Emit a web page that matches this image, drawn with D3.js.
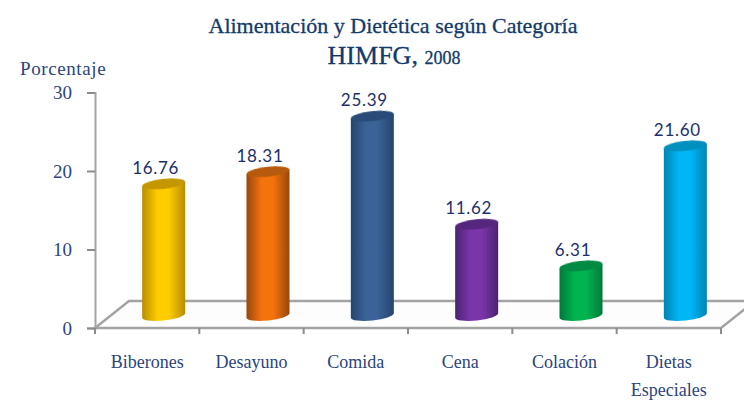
<!DOCTYPE html>
<html>
<head>
<meta charset="utf-8">
<script src="https://cdn.jsdelivr.net/npm/d3@7"></script>
<style>
    html, body { margin: 0; padding: 0; background: #fff; }
    svg { display: block; }
    .papyrus { font-family: "Liberation Serif", serif; fill: #2b4480; }
    .title { fill: #123a6b; stroke: #123a6b; stroke-width: 0.3px; }
    .value { font-family: "Lato", sans-serif; font-size: 17px; letter-spacing: 0.7px; fill: #1b2f6b; }
</style>
</head>
<body>
<div id="chart"></div>
<script>
//
// DATA
//
const categories = ['Biberones', 'Desayuno', 'Comida', 'Cena', 'Colación', 'Dietas Especiales']
const values = [16.76, 18.31, 25.39, 11.62, 6.31, 21.6]
const yTicks = [0, 10, 20, 30]
// [edge, middle, cap] for each cylinder
const palette = [
    ['#b88c00', '#ffcc00', '#c49600'],
    ['#96480a', '#f5730f', '#b85a08'],
    ['#24466f', '#3a6397', '#2a4c78'],
    ['#4a2470', '#7a35a8', '#54287e'],
    ['#00793a', '#00b450', '#008a42'],
    ['#0083b5', '#00b6f5', '#0090c0']
]

//
// GLOBALS
//
const width = 744
const height = 400
const left = 95
const right = 721
const floorY = 328
// the floor is drawn in perspective, back edge is up and to the right
const depthX = 34
const depthY = 27
const barRx = 21.5
const barRy = 5
const tilt = 2.2

const svg = d3.select('#chart')
    .append('svg')
    .attr('width', width)
    .attr('height', height)

const x = d3.scaleBand().domain(categories).range([left, right])
const y = d3.scaleLinear().domain([0, 30]).range([floorY, 92.5])

const defs = svg.append('defs')
defs.append('filter')
    .attr('id', 'soft')
    .append('feGaussianBlur')
    .attr('stdDeviation', 0.5)

palette.forEach((c, i) => {
    const grad = defs.append('linearGradient').attr('id', 'bar-' + i)
    grad.append('stop').attr('offset', '0%').attr('stop-color', c[0])
    grad.append('stop').attr('offset', '35%').attr('stop-color', c[1])
    grad.append('stop').attr('offset', '62%').attr('stop-color', c[1])
    grad.append('stop').attr('offset', '100%').attr('stop-color', c[0])
})

// floor
const floor = svg.append('g')
    .attr('fill', 'none')
    .attr('stroke', '#a3a3a3')
    .attr('stroke-width', 2.4)
    .attr('filter', 'url(#soft)')
floor.append('path')
    .attr('d', `M${left},${floorY}L${left + depthX},${floorY - depthY}H${right + depthX}L${right},${floorY}Z`)
    .attr('fill', '#fdfdfd')

// y axis
const yAxis = svg.append('g')
    .attr('transform', `translate(${left},0)`)
    .call(d3.axisLeft(y).tickValues(yTicks).tickSize(8).tickPadding(15))
yAxis.select('.domain').attr('stroke', '#a3a3a3').attr('stroke-width', 2)
yAxis.selectAll('.tick line').attr('stroke', '#8c8c8c').attr('stroke-width', 2)
yAxis.selectAll('.tick text')
    .attr('class', 'papyrus')
    .attr('font-family', null)
    .style('font-size', '19px')

// x axis, ticks sit on the band edges and not on the band centres
const edges = categories.map(c => x(c)).concat(right)
const xAxis = svg.append('g').attr('transform', `translate(0,${floorY})`)
xAxis.append('path')
    .attr('d', `M${left},0H${right}`)
    .attr('stroke', '#a3a3a3')
    .attr('stroke-width', 2)
xAxis.selectAll('line')
    .data(edges)
    .join('line')
    .attr('x1', d => d)
    .attr('x2', d => d)
    .attr('y1', 0)
    .attr('y2', 6)
    .attr('stroke', '#8c8c8c')
    .attr('stroke-width', 2)

xAxis.selectAll('text')
    .data(categories)
    .join('text')
    .attr('class', 'papyrus')
    .attr('text-anchor', 'middle')
    .style('font-size', '18px')
    .attr('transform', d => `translate(${x(d) + x.bandwidth() / 2},40)`)
    .each(function (d) {
        const words = d === 'Dietas Especiales' ? d.split(' ') : [d]
        d3.select(this)
            .selectAll('tspan')
            .data(words)
            .join('tspan')
            .attr('x', 0)
            .attr('dy', (w, i) => (i ? 28 : 0))
            .text(w => w)
    })

// cylinders
const bars = svg.append('g')
    .selectAll('g')
    .data(categories)
    .join('g')
    .attr('transform', d => `translate(${x(d) + x.bandwidth() / 2 + 16.5},0)`)

const topY = i => y(values[i]) - 12.5
const baseY = floorY - 12.5

bars.append('path')
    .attr('filter', 'url(#soft)')
    .attr('fill', (d, i) => `url(#bar-${i})`)
    .attr('d', (d, i) =>
        `M${-barRx},${topY(i) + tilt}L${barRx},${topY(i) - tilt}` +
        `L${barRx},${baseY - tilt}` +
        `A${barRx},${barRy} -6 0 1 ${-barRx},${baseY + tilt}Z`)

bars.append('ellipse')
    .attr('filter', 'url(#soft)')
    .attr('rx', barRx)
    .attr('ry', barRy)
    .attr('fill', (d, i) => palette[i][2])
    .attr('transform', (d, i) => `translate(0,${topY(i)}) rotate(-6)`)

bars.append('text')
    .attr('class', 'value')
    .attr('text-anchor', 'middle')
    .attr('x', -8)
    .attr('y', (d, i) => topY(i) - 10)
    .text((d, i) => values[i].toFixed(2))

// titles
svg.append('text')
    .attr('class', 'papyrus title')
    .attr('x', 393)
    .attr('y', 33)
    .attr('text-anchor', 'middle')
    .style('font-size', '22px')
    .text('Alimentación y Dietética según Categoría')

const sub = svg.append('text')
    .attr('class', 'papyrus title')
    .attr('x', 394)
    .attr('y', 64)
    .attr('text-anchor', 'middle')
    .style('font-size', '26px')
sub.append('tspan').text('HIMFG, ')
sub.append('tspan').style('font-size', '18px').text('2008')

svg.append('text')
    .attr('class', 'papyrus')
    .attr('x', 20)
    .attr('y', 75)
    .style('font-size', '19px')
    .style('letter-spacing', '0.6px')
    .text('Porcentaje')
</script>
</body>
</html>
